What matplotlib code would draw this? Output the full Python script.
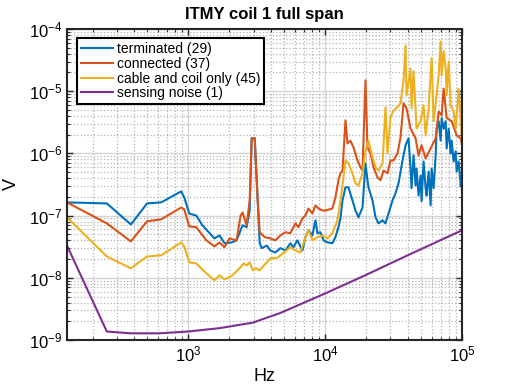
import numpy as np
import matplotlib
matplotlib.use('Agg')
import matplotlib.pyplot as plt
from matplotlib.ticker import LogLocator, NullFormatter

plt.rcParams['font.family'] = ['Liberation Sans', 'DejaVu Sans']
plt.rcParams['mathtext.default'] = 'regular'

# terminated (29)
f_term = [130, 254, 381, 500, 633, 888, 935, 1017, 1145, 1267, 1553, 1690, 1839, 2070, 2254,
          2494, 2669, 2810, 2906, 3058, 3216, 3326, 3443, 3748,
          3980, 4330, 4710, 5125, 5575, 5860, 6270, 6825, 7175, 7550, 8075, 8495, 8785, 9245,
          9725, 10400, 11300, 11890, 12510, 12940,
          13390, 14080, 14800, 15840, 16660, 17520, 18750, 19720, 20390, 20740, 22190, 23340,
          24550, 26250, 27610, 29040, 31070, 32680, 34370, 36770, 38030,
          38680, 40690, 42080, 42800, 44270, 45790, 46570, 48170, 49820, 50670, 52410, 54210,
          55130, 57030, 58980, 59980, 62040, 64170, 65260, 67500, 69820, 71010, 73440, 75960,
          77250, 79900, 82640, 84050, 86930, 89910, 91440, 94580, 97820, 99480, 100000]
v_term = [1.63e-7, 1.57e-7, 7.2e-8, 1.57e-7, 1.63e-7, 2.45e-7, 1.96e-7, 1.08e-7, 1.0e-7, 7.0e-8,
          4.3e-8, 4.8e-8, 3.6e-8, 3.7e-8, 4.0e-8, 7.0e-8, 6.5e-8, 1.21e-7, 1.75e-6, 1.75e-6,
          1.75e-7, 3.6e-8, 3.0e-8, 3.3e-8,
          2.75e-8, 2.55e-8, 3.0e-8, 2.75e-8, 3.6e-8, 3.1e-8, 4.0e-8, 2.75e-8, 4.5e-8, 5.8e-8,
          4.8e-8, 8.4e-8, 5.2e-8, 5.4e-8, 4.0e-8, 3.7e-8, 3.6e-8, 4.5e-8, 6.5e-8, 9.0e-8,
          1.75e-7, 2.85e-7, 2.85e-7, 1.75e-7, 1.21e-7, 9.4e-8, 1.35e-7, 6.9e-7, 3.7e-7, 2.85e-7,
          1.75e-7, 9.4e-8, 7.5e-8, 8.4e-8, 7.5e-8, 1.08e-7, 1.75e-7, 2.3e-7, 3.3e-7, 7.7e-7,
          1.12e-6,
          1.35e-6, 1.75e-6, 5.7e-7, 2.75e-7, 9.3e-7, 3.05e-7, 5.7e-7, 2.1e-7, 4.4e-7, 1.7e-7,
          7.4e-7, 2.75e-7, 2.1e-7, 5.1e-7, 1.46e-7, 5.7e-7, 2.75e-7, 9.3e-7, 2.5e-6, 3.3e-6,
          1.6e-6, 3.7e-6, 2.5e-6, 3.3e-6, 1.2e-6, 2.5e-6, 1.0e-6, 1.6e-6, 7.4e-7, 1.08e-6,
          5.1e-7, 7.4e-7, 3.05e-7, 4.0e-7, 2.3e-7]

# connected (37)
f_conn = [130, 254, 381, 500, 633, 888, 935, 1017, 1145, 1357, 1553, 1690, 1839, 2001, 2254,
          2411, 2494, 2669, 2810, 2906, 3058, 3216, 3326, 3623,
          3980, 4330, 4710, 5125, 5575, 6065, 6380, 6825, 7175, 7550, 8075, 8495, 8935, 9560,
          10050, 11300, 11890, 12510, 12940,
          13390, 14080, 14560, 15310, 16110, 17230, 18130, 18750, 19720, 20390, 21450, 22560,
          24140, 25380, 26700, 28560, 30040, 31600, 33800, 35550, 37400,
          39340, 42080, 45790, 48170, 50670, 54210, 58980, 64170, 67500, 71010, 73440, 77250,
          84050, 91440, 97820, 100000]
v_conn = [1.63e-7, 7.5e-8, 3.85e-8, 8.1e-8, 8.7e-8, 1.35e-7, 1.26e-7, 6.7e-8, 6.5e-8, 4.0e-8,
          3.2e-8, 3.7e-8, 3.1e-8, 4.3e-8, 4.0e-8, 1.0e-7, 1.12e-7, 7.0e-8, 1.75e-7, 1.75e-6,
          1.75e-6, 1.75e-7, 5.4e-8, 4.5e-8,
          4.3e-8, 4.0e-8, 4.8e-8, 5.4e-8, 5.2e-8, 7.5e-8, 6.5e-8, 9.0e-8, 1.0e-7, 1.3e-7,
          1.08e-7, 1.46e-7, 1.3e-7, 1.21e-7, 1.21e-7, 1.3e-7, 1.96e-7, 3.7e-7, 4.8e-7,
          5.3e-7, 3.4e-6, 1.45e-6, 1.6e-6, 1.25e-6, 7.7e-7, 6.0e-7, 5.3e-7, 1.5e-5, 1.25e-6,
          1.0e-6, 6.0e-7, 4.1e-7, 3.7e-7, 5.3e-7, 4.8e-7, 7.7e-7, 7.7e-7, 1.0e-6, 1.8e-6,
          6.4e-6,
          5.3e-6, 2.5e-6, 1.75e-6, 9.3e-7, 1.35e-6, 8.3e-7, 1.2e-6, 1.75e-6, 4.7e-6, 4.1e-6,
          1.1e-5, 3.7e-6, 3.3e-6, 1.95e-6, 1.75e-6, 1.35e-6]

# cable and coil only (45)
f_cable = [130, 254, 381, 500, 633, 888, 935, 1017, 1145, 1357, 1553, 1690, 1839, 2108, 2370,
           2535, 2669, 2810, 2958, 3110, 3326, 3748,
           3980, 4480, 4950, 5575, 6065, 6595, 7175, 7550, 8075, 8785, 9560, 10400, 11300,
           12300, 12940,
           13390, 14080, 14800, 15840, 16660, 17520, 18750, 19720, 20740, 22190, 23340, 24550,
           26250, 27610, 28560, 30040, 31600, 33800, 35550, 37400,
           38680, 39340, 42080, 42800, 44270, 46570, 49820, 52410, 54210, 57030, 59980, 62040,
           65260, 67500, 69820, 71010, 73440, 75960, 77250, 79900, 82640, 86930, 89910, 94580,
           99480, 100000]
v_cable = [9.4e-8, 2.2e-8, 1.42e-8, 2.2e-8, 2.3e-8, 3.7e-8, 3.2e-8, 1.77e-8, 1.7e-8, 1.18e-8,
           9.1e-9, 1.1e-8, 9.4e-9, 1.1e-8, 1.42e-8, 1.7e-8, 1.58e-8, 1.77e-8, 1.32e-8, 1.42e-8,
           1.32e-8, 1.77e-8,
           2.05e-8, 2.1e-8, 2.5e-8, 3.1e-8, 2.75e-8, 2.55e-8, 4.5e-8, 5.8e-8, 4.0e-8, 4.5e-8,
           4.8e-8, 4.3e-8, 5.2e-8, 8.4e-8, 1.75e-7,
           3.05e-7, 7.7e-7, 6.9e-7, 4.8e-7, 3.3e-7, 3.05e-7, 4.8e-7, 1.12e-6, 1.6e-6, 8.6e-7,
           6.0e-7, 5.3e-7, 6.9e-7, 5.5e-6, 1.0e-6, 3.8e-6, 4.9e-6, 5.5e-6, 6.4e-6, 1.5e-5,
           5.4e-5, 8.6e-6, 2.3e-5, 5.3e-6, 2.1e-5, 2.5e-6, 3.3e-6, 5.9e-6, 1.95e-6, 5.3e-6,
           3.4e-5, 3.3e-6, 8.6e-6, 1.8e-5, 6.3e-5, 1.8e-5, 4.4e-5, 2.3e-5, 8.6e-6, 3.0e-5,
           5.9e-6, 4.7e-6, 2.5e-6, 1.1e-5, 1.95e-6, 1.45e-6]

# sensing noise (1)
f_sense = [130, 254, 381, 612, 1000, 1690, 2958, 4668, 10000, 19670, 40090, 100000]
v_sense = [3.3e-8, 1.37e-9, 1.28e-9, 1.28e-9, 1.37e-9, 1.55e-9, 1.9e-9, 2.7e-9, 5.6e-9,
           1.1e-8, 2.3e-8, 5.8e-8]

labels = ['terminated (29)', 'connected (37)', 'cable and coil only (45)', 'sensing noise (1)']
colors = ['#0072BD', '#D95319', '#EDB120', '#7E2F8E']

fig = plt.figure(figsize=(5.12, 3.84), dpi=100)
ax = fig.add_axes([67 / 512, 1 - 340 / 384, 395 / 512, 311 / 384])

series = [(f_term, v_term), (f_conn, v_conn), (f_cable, v_cable), (f_sense, v_sense)]
for (f, v), lab, c in zip(series, labels, colors):
    ax.loglog(f, v, color=c, lw=1.5, label=lab)

ax.set_xlim(130, 1e5)
ax.set_ylim(1e-9, 1e-4)

ax.xaxis.set_major_locator(LogLocator(base=10, numticks=10))
ax.xaxis.set_minor_locator(LogLocator(base=10, subs=np.arange(2, 10), numticks=20))
ax.yaxis.set_major_locator(LogLocator(base=10, numticks=10))
ax.yaxis.set_minor_locator(LogLocator(base=10, subs=np.arange(2, 10), numticks=20))
ax.xaxis.set_minor_formatter(NullFormatter())
ax.yaxis.set_minor_formatter(NullFormatter())

ax.grid(True, which='major', color='#d4d4d4', lw=1.0, ls='-')
ax.grid(True, which='minor', color='#b4b4b4', lw=0.9, ls=':')
ax.set_axisbelow(True)

ax.tick_params(which='both', direction='in', top=True, right=True, labelsize=12,
               color='#262626')
ax.tick_params(which='major', length=4.5, width=1.0)
ax.tick_params(which='minor', length=2.5, width=0.8)
for s in ax.spines.values():
    s.set_linewidth(1.5)
    s.set_color('#262626')

ax.set_title('ITMY coil 1 full span', fontweight='bold', fontsize=12, pad=7)
ax.set_xlabel('Hz', fontsize=13, labelpad=2)
ax.set_ylabel('V', fontsize=13, labelpad=6)

leg = ax.legend(loc='upper left', bbox_to_anchor=(10 / 395, 1 - 9 / 311), borderaxespad=0,
                fontsize=10, handlelength=2.3, handletextpad=0.25, labelspacing=0.05,
                borderpad=0.3, fancybox=False, framealpha=1, edgecolor='black')
leg.get_frame().set_linewidth(1.5)

fig.savefig('out.png', dpi=100)
